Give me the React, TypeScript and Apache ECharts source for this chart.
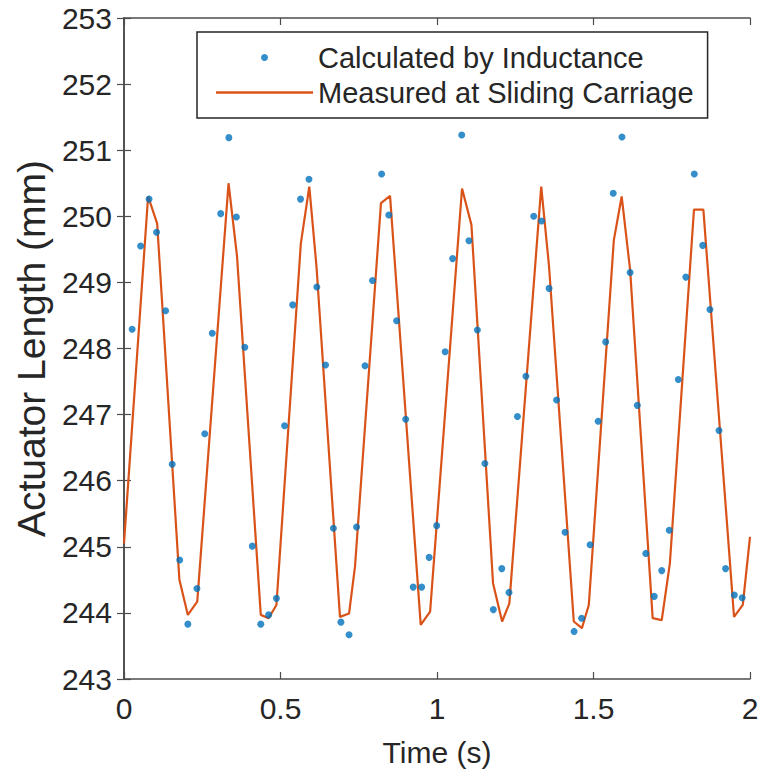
import React, { useEffect, useRef } from "react";
import * as echarts from "echarts";

// Calculated by Inductance (blue dots)
const dotTimes = [
  0.026, 0.053, 0.080, 0.104, 0.133, 0.154, 0.178, 0.204, 0.233, 0.258,
  0.282, 0.309, 0.335, 0.359, 0.386, 0.410, 0.437, 0.462, 0.487, 0.513,
  0.539, 0.564, 0.591, 0.616, 0.644, 0.669, 0.693, 0.719, 0.743, 0.770,
  0.794, 0.823, 0.846, 0.871, 0.900, 0.924, 0.951, 0.975, 0.999, 1.026,
  1.050, 1.079, 1.102, 1.129, 1.153, 1.180, 1.207, 1.230, 1.257, 1.284,
  1.309, 1.334, 1.358, 1.382, 1.409, 1.438, 1.462, 1.489, 1.515, 1.539,
  1.563, 1.591, 1.617, 1.640, 1.667, 1.694, 1.718, 1.742, 1.771, 1.795,
  1.822, 1.849, 1.872, 1.901, 1.922, 1.950, 1.975,
];
const dotValues = [
  248.29, 249.55, 250.26, 249.76, 248.57, 246.25, 244.80, 243.83, 244.37, 246.71,
  248.23, 250.04, 251.19, 249.99, 248.02, 245.01, 243.83, 243.97, 244.22, 246.83,
  248.66, 250.26, 250.56, 248.93, 247.75, 245.28, 243.86, 243.67, 245.30, 247.74,
  249.03, 250.64, 250.02, 248.42, 246.93, 244.39, 244.39, 244.84, 245.32, 247.95,
  249.36, 251.23, 249.63, 248.28, 246.26, 244.05, 244.67, 244.31, 246.97, 247.58,
  250.00, 249.93, 248.91, 247.22, 245.22, 243.72, 243.92, 245.03, 246.90, 248.10,
  250.35, 251.20, 249.15, 247.14, 244.90, 244.25, 244.64, 245.25, 247.53, 249.08,
  250.64, 249.56, 248.59, 246.76, 244.67, 244.27, 244.23,
];

// Measured at Sliding Carriage (orange line vertices)
const lineTimes = [
  0, 0.077, 0.106, 0.177, 0.204, 0.234, 0.334, 0.361, 0.437, 0.462,
  0.487, 0.565, 0.592, 0.615, 0.690, 0.719, 0.738, 0.821, 0.850, 0.948,
  0.978, 1.080, 1.110, 1.179, 1.208, 1.231, 1.333, 1.358, 1.437, 1.463,
  1.485, 1.565, 1.590, 1.617, 1.689, 1.718, 1.744, 1.821, 1.851, 1.949,
  1.977, 2.0,
];
const lineValues = [
  245.05, 250.30, 249.89, 244.50, 243.97, 244.17, 250.50, 249.40, 243.97, 243.92,
  244.12, 249.59, 250.45, 249.24, 243.94, 243.99, 244.70, 250.20, 250.31, 243.82,
  244.02, 250.42, 249.87, 244.45, 243.87, 244.14, 250.45, 249.24, 243.87, 243.77,
  244.12, 249.64, 250.30, 249.19, 243.92, 243.89, 244.75, 250.10, 250.10, 243.94,
  244.12, 245.15,
];

const seriesNames = ["Calculated by Inductance", "Measured at Sliding Carriage"];
const xRange = { min: 0, max: 2, interval: 0.5 };
const yRange = { min: 243, max: 253, interval: 1 };

const FONT = "'Liberation Sans', Arial, Helvetica, sans-serif";
const TEXT = "#262626";
const AXIS = "#4d4d4d";
const BLUE = "#0072BD";
const ORANGE = "#D95319";

export default function App() {
  const ref = useRef<HTMLDivElement>(null);

  useEffect(() => {
    if (!ref.current) return;
    const chart = echarts.init(ref.current, null, { renderer: "svg" });

    const axisLine = { show: true, lineStyle: { color: AXIS, width: 1.6 } };
    const axisTick = { show: true, inside: true, length: 7, lineStyle: { color: AXIS, width: 1.2 } };

    chart.setOption({
      animation: false,
      backgroundColor: "#ffffff",
      textStyle: { fontFamily: FONT },
      grid: {
        left: 124,
        top: 18,
        width: 626,
        height: 661,
        containLabel: false,
        outerBoundsMode: "none",
      },
      legend: {
        data: [
          { name: seriesNames[0], icon: "circle" },
          { name: seriesNames[1], icon: "path://M0,0 L97,0 L97,2.4 L0,2.4 Z", itemStyle: { color: ORANGE } },
        ],
        orient: "vertical",
        left: 197,
        top: 32,
        padding: [8, 14, 8, 19],
        itemWidth: 97,
        itemHeight: 7,
        itemGap: 0,
        symbolKeepAspect: true,
        borderColor: TEXT,
        borderWidth: 1.5,
        backgroundColor: "#ffffff",
        selectedMode: false,
        textStyle: { fontSize: 29, color: TEXT, fontFamily: FONT, lineHeight: 35 },
      },
      xAxis: [
        {
          type: "value",
          position: "bottom",
          ...xRange,
          axisLine,
          axisTick,
          splitLine: { show: false },
          axisLabel: { fontSize: 30, color: TEXT, margin: 14, fontFamily: FONT },
          name: "Time (s)",
          nameLocation: "middle",
          nameGap: 58,
          nameTextStyle: { fontSize: 30, color: TEXT, fontFamily: FONT },
        },
        {
          type: "value",
          position: "top",
          ...xRange,
          axisLine,
          axisTick,
          splitLine: { show: false },
          axisLabel: { show: false },
        },
      ],
      yAxis: [
        {
          type: "value",
          position: "left",
          ...yRange,
          axisLine,
          axisTick,
          splitLine: { show: false },
          axisLabel: { fontSize: 30, color: TEXT, margin: 12, fontFamily: FONT },
          name: "Actuator Length (mm)",
          nameLocation: "middle",
          nameRotate: 90,
          nameGap: 72,
          nameTextStyle: { fontSize: 39, color: TEXT, fontFamily: FONT },
        },
        {
          type: "value",
          position: "right",
          ...yRange,
          axisLine,
          axisTick,
          splitLine: { show: false },
          axisLabel: { show: false },
        },
      ],
      series: [
        {
          name: seriesNames[0],
          type: "scatter",
          data: dotTimes.map((t, i) => [t, dotValues[i]]),
          symbol: "circle",
          symbolSize: 7,
          itemStyle: { color: BLUE },
          z: 3,
        },
        {
          name: seriesNames[1],
          type: "line",
          data: lineTimes.map((t, i) => [t, lineValues[i]]),
          symbol: "none",
          showSymbol: false,
          lineStyle: { color: ORANGE, width: 2.2 },
          itemStyle: { color: ORANGE },
          z: 2,
        },
      ],
    });

    return () => chart.dispose();
  }, []);

  return (
    <div
      ref={ref}
      style={{ position: "absolute", left: 0, top: 0, width: 762, height: 783 }}
    />
  );
}
